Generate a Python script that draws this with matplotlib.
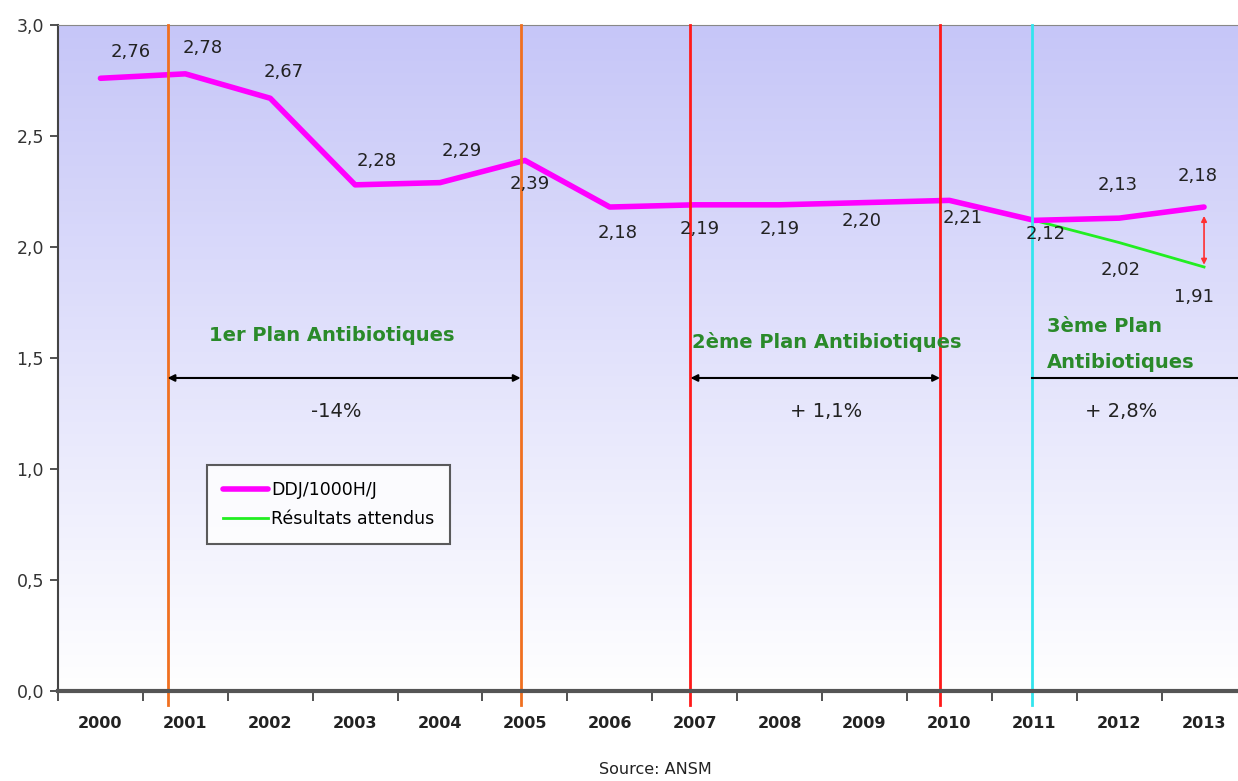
import numpy as np
import matplotlib.pyplot as plt
from matplotlib.ticker import FuncFormatter

# data
years = ['2000', '2001', '2002', '2003', '2004', '2005', '2006',
         '2007', '2008', '2009', '2010', '2011', '2012', '2013']
ddj = [2.76, 2.78, 2.67, 2.28, 2.29, 2.39, 2.18, 2.19, 2.19, 2.20, 2.21, 2.12, 2.13, 2.18]
attendus_idx = [11, 12, 13]
attendus = [2.12, 2.02, 1.91]

# label offsets in pixels (dx, dy) relative to each point
ddj_offsets = [(30, 26), (17, 26), (13, 26), (22, 24), (22, 32), (5, -24), (8, -26),
               (5, -24), (0, -24), (-3, -18), (13, -18), (11, -14), (-1, 33), (-6, 31)]
att_offsets = [(0, 0), (1, -27), (-10, -30)]

vlines = [(0.79, '#f07020'), (4.95, '#f07020'), (6.95, '#ff1a1a'),
          (9.89, '#ff1a1a'), (10.97, '#33e5ee')]

green_txt = '#2a8a2a'
dark = '#222222'

fig = plt.figure(figsize=(12.38, 7.81), dpi=100)
W, H = 1238, 781
ax = fig.add_axes([58 / W, (H - 691) / H, (W - 58) / W, (691 - 25) / H])
x0, x1 = -0.5, 13.4

# gradient background
top = np.array([198, 198, 248]) / 255
bot = np.array([255, 255, 255]) / 255
t = np.linspace(0, 1, 256)[:, None]
grad = (top * (1 - t) + bot * t)[:, None, :]
ax.imshow(grad, extent=[x0, x1, 0, 3.0], aspect='auto', zorder=0, origin='upper')

x = np.arange(len(years))
ax.plot(x, ddj, color='#ff00ff', lw=4, solid_capstyle='round', zorder=4, label='DDJ/1000H/J')
ax.plot(attendus_idx, attendus, color='#22ee22', lw=2, zorder=3, label='Résultats attendus')

for i, v in enumerate(ddj):
    dx, dy = ddj_offsets[i]
    ax.annotate(f'{v:.2f}'.replace('.', ','), (x[i], v), xytext=(dx * 0.72, dy * 0.72),
                textcoords='offset points', ha='center', va='center',
                fontsize=13, color=dark, zorder=6)
for k in (1, 2):
    dx, dy = att_offsets[k]
    ax.annotate(f'{attendus[k]:.2f}'.replace('.', ','), (attendus_idx[k], attendus[k]),
                xytext=(dx * 0.72, dy * 0.72), textcoords='offset points',
                ha='center', va='center', fontsize=13, color=dark, zorder=6)

for xv, c in vlines:
    ax.plot([xv, xv], [-0.065, 3.0], color=c, lw=2, zorder=5, clip_on=False)

# gap arrow 2013
ax.annotate('', xy=(13, 1.92), xytext=(13, 2.14),
            arrowprops=dict(arrowstyle='<|-|>', color='#ff3030', lw=1.2, mutation_scale=8,
                            shrinkA=0, shrinkB=0))

# plan arrows
ax.annotate('', xy=(0.79, 1.41), xytext=(4.95, 1.41),
            arrowprops=dict(arrowstyle='<|-|>', color='black', lw=1.5, mutation_scale=10,
                            shrinkA=0, shrinkB=0), zorder=5)
ax.annotate('', xy=(6.95, 1.41), xytext=(9.89, 1.41),
            arrowprops=dict(arrowstyle='<|-|>', color='black', lw=1.5, mutation_scale=10,
                            shrinkA=0, shrinkB=0), zorder=5)
ax.plot([10.97, x1], [1.41, 1.41], color='black', lw=1.5, zorder=5)

ax.text(2.73, 1.60, '1er Plan Antibiotiques', color=green_txt, fontsize=14,
        fontweight='bold', ha='center', va='center', zorder=6)
ax.text(8.55, 1.57, '2ème Plan Antibiotiques', color=green_txt, fontsize=14,
        fontweight='bold', ha='center', va='center', zorder=6)
ax.text(11.15, 1.64, '3ème Plan', color=green_txt, fontsize=14,
        fontweight='bold', ha='left', va='center', zorder=6)
ax.text(11.15, 1.48, 'Antibiotiques', color=green_txt, fontsize=14,
        fontweight='bold', ha='left', va='center', zorder=6)
ax.text(2.78, 1.26, '-14%', fontsize=14, color=dark, ha='center', va='center', zorder=6)
ax.text(8.55, 1.26, '+ 1,1%', fontsize=14, color=dark, ha='center', va='center', zorder=6)
ax.text(12.02, 1.26, '+ 2,8%', fontsize=14, color=dark, ha='center', va='center', zorder=6)

leg = ax.legend(loc='upper left', bbox_to_anchor=((207 - 58) / (W - 58), (691 - 465) / 666),
                frameon=True, fancybox=False, fontsize=12.5, handlelength=2.6,
                handletextpad=0.2, borderpad=0.9, labelspacing=0.65, borderaxespad=0)
leg.get_frame().set_edgecolor('#333333')
leg.get_frame().set_linewidth(1.5)
leg.set_zorder(7)

# axes styling
ax.set_yticks([0, 0.5, 1.0, 1.5, 2.0, 2.5, 3.0])
ax.yaxis.set_major_formatter(FuncFormatter(lambda v, p: f'{v:.1f}'.replace('.', ',')))
ax.tick_params(axis='y', direction='out', length=6, width=1.2, labelsize=12.5,
               colors='#333333', pad=4)
ax.set_xticks(np.arange(len(years) + 1) - 0.5)
ax.set_xticklabels([])
ax.set_xticks(x, minor=True)
ax.set_xticklabels(years, minor=True, fontsize=11.5, fontweight='bold', color=dark)
ax.tick_params(axis='x', which='major', direction='out', length=7, width=1.2, colors='#333333')
ax.tick_params(axis='x', which='minor', length=0, pad=18)
ax.set_xlim(x0, x1)
ax.set_ylim(0, 3.0)

ax.spines['right'].set_visible(False)
ax.spines['top'].set_color('#888888')
ax.spines['left'].set_color('#444444')
ax.spines['left'].set_linewidth(1.5)
ax.spines['bottom'].set_color('#555555')
ax.spines['bottom'].set_linewidth(3)
ax.spines['bottom'].set_zorder(6)

fig.text(655 / W, 1 - 770 / H, 'Source: ANSM', ha='center', va='center', fontsize=11.5, color=dark)

fig.savefig('out.png', dpi=100)
